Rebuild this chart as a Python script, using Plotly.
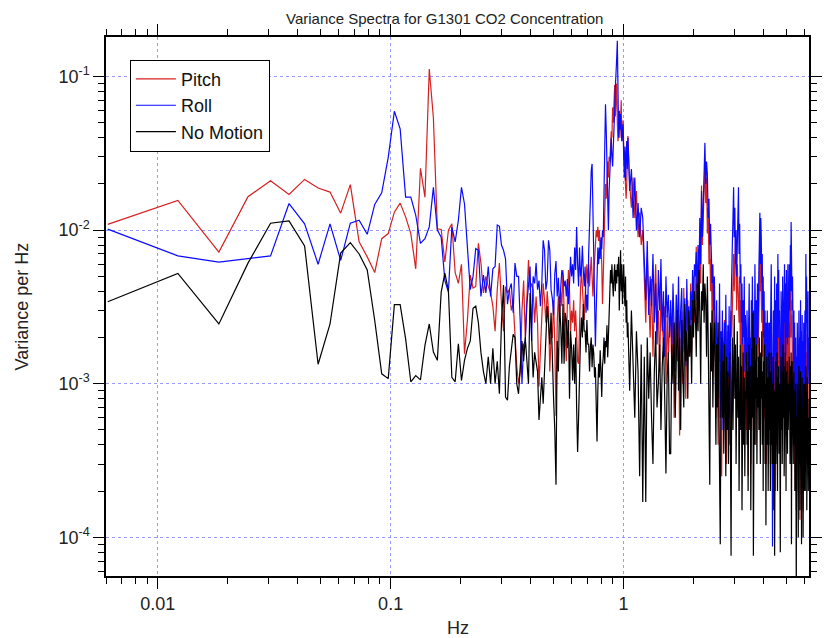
import numpy as np
import plotly.graph_objects as go

# ---------------- data ----------------
DF = 12.5 / 2048          # Hz per spectral bin
LOW_BINS = list(range(1, 171))          # every bin up to ~1.04 Hz
HIGH_BINS = list(range(171, 1024, 3))   # every 3rd bin above

UNIT = 1e-3  # values below are in units of 1e-3 variance per Hz

PITCH_LOW = [
    10.9, 15.6, 7.2, 16.5, 21.0, 17.1, 21.4, 18.8, 17.7, 12.9,
    19.8, 8.4, 6.7, 5.3, 8.8, 9.5, 13.1, 15.0, 12.2, 9.5,
    5.6, 25.3, 16.4, 112, 54, 10.2, 10.1, 6.2, 10.0, 11.0,
    5.3, 4.5, 6.0, 1.57, 2.6, 5.1, 4.2, 4.3, 8.2, 6.1,
    3.9, 5.0, 4.3, 3.9, 3.2, 2.2, 4.1, 6.1, 3.3, 2.2,
    4.3, 3.9, 4.1, 3.0, 3.4, 1.9, 1.3, 1.0, 1.2, 3.0,
    4.7, 2.0, 3.7, 6.4, 4.1, 4.5, 4.1, 2.5, 3.7, 2.5,
    0.96, 1.7, 3.0, 4.5, 3.5, 2.5, 4.0, 3.0, 1.2, 2.0,
    2.0, 3.5, 1.8, 0.62, 2.5, 3.7, 2.6, 4.0, 3.2, 5.5,
    3.0, 2.2, 1.4, 3.5, 5.5, 4.0, 2.2, 3.0, 2.5, 3.5,
    2.2, 3.0, 2.0, 1.4, 1.35, 3.0, 4.1, 5.5, 4.0, 3.3,
    2.6, 3.7, 5.0, 6.0, 4.5, 6.0, 4.3, 5.5, 6.7, 5.0,
    3.7, 5.0, 7.0, 8.0, 10.0, 9.0, 10.5, 8.5, 10.0, 7.0,
    8.6, 6.0, 3.3, 5.0, 7.5, 12, 20, 16, 25, 28,
    22, 30, 28, 35, 44, 40, 63, 50, 60, 88,
    55, 70, 90, 50, 38, 45, 52, 40, 55, 70,
    38, 45, 52, 35, 28, 25, 20, 16, 20, 28,
]

ROLL_LOW = [
    10.15, 6.8, 6.2, 6.55, 6.8, 14.9, 11.0, 6.0, 11.0, 6.35,
    11.1, 11.6, 9.4, 14.7, 17.5, 29.8, 59.5, 45.7, 16.4, 16.4,
    12.5, 8.2, 8.8, 10.5, 19.0, 10.0, 9.0, 4.7, 3.95, 10.5,
    8.4, 11.6, 19.0, 14.8, 7.4, 4.1, 5.0, 7.6, 7.4, 3.7,
    5.1, 3.9, 5.8, 3.7, 5.6, 5.8, 10.8, 10.6, 8.0, 7.4,
    6.5, 3.3, 4.1, 4.5, 2.9, 6.1, 5.0, 5.0, 2.5, 1.0,
    1.8, 1.9, 3.3, 4.3, 5.8, 1.9, 5.0, 4.5, 6.1, 4.1,
    4.7, 3.2, 4.5, 8.6, 7.4, 4.1, 4.7, 8.6, 7.4, 4.1,
    3.6, 2.8, 5.2, 6.3, 3.7, 4.9, 3.0, 4.2, 5.5, 5.1,
    4.3, 4.7, 3.7, 4.8, 3.3, 4.4, 6.7, 5.0, 6.0, 4.5,
    7.7, 5.5, 10.5, 6.0, 4.3, 7.7, 5.0, 5.5, 7.9, 5.5,
    4.3, 5.8, 2.9, 3.8, 3.0, 7.0, 11.0, 14.0, 24.5, 27.0,
    13.0, 6.0, 3.5, 1.75, 3.0, 5.5, 7.7, 6.0, 7.7, 6.5,
    9.0, 7.5, 10.0, 9.0, 18.0, 40, 66, 45, 27, 15,
    10, 18, 27, 35, 40, 30, 26, 35, 42, 60,
    85, 100, 130, 171, 90, 40, 60, 45, 57, 40,
    38, 45, 49, 30, 22, 35, 21, 30, 38, 25,
]

NOMOTION_LOW = [
    3.42, 5.23, 2.45, 6.1, 11.1, 11.5, 7.9, 1.34, 2.45, 7.1,
    8.3, 7.0, 5.5, 2.58, 1.16, 1.08, 3.27, 3.27, 1.96, 1.03,
    1.13, 1.06, 1.78, 2.45, 1.61, 1.42, 3.95, 5.25, 4.05, 1.10,
    1.03, 1.82, 1.05, 1.42, 1.7, 1.9, 3.1, 3.2, 2.5, 1.6,
    1.2, 1.0, 1.5, 1.0, 1.7, 1.0, 1.4, 0.86, 2.5, 4.4,
    0.82, 0.78, 1.3, 1.7, 2.1, 2.0, 1.0, 0.86, 1.4, 1.9,
    1.4, 2.0, 1.4, 1.0, 3.9, 2.0, 1.1, 1.6, 1.4, 1.2,
    0.58, 0.9, 1.1, 0.74, 1.2, 2.0, 3.2, 2.5, 1.8, 2.9,
    1.3, 0.8, 0.5, 0.22, 1.9, 1.2, 3.3, 2.4, 1.35, 3.3,
    1.35, 2.9, 2.6, 1.7, 2.6, 0.8, 2.2, 1.7, 1.05, 1.8,
    1.0, 2.0, 0.7, 0.36, 0.6, 1.35, 2.0, 2.7, 2.0, 3.3,
    2.2, 2.2, 1.6, 2.6, 1.8, 1.82, 1.2, 1.73, 2.0, 1.28,
    1.8, 1.57, 1.1, 1.28, 0.7, 0.42, 0.9, 1.35, 1.1, 1.65,
    1.2, 0.82, 1.3, 1.49, 2.0, 1.35, 1.9, 1.73, 2.4, 1.49,
    2.0, 3.16, 4.0, 5.5, 4.5, 6.0, 4.5, 3.7, 5.0, 6.0,
    4.0, 5.5, 4.5, 6.0, 5.0, 6.7, 3.0, 6.0, 7.4, 4.0,
    6.0, 3.3, 5.0, 6.0, 4.0, 3.2, 5.0, 2.5, 3.5, 2.0,
]

PITCH_HIGH = [
    41, 20, 14, 22, 12, 18, 9, 13, 8, 10,
    4.5, 2.5, 6.7, 3.0, 2.0, 4.8, 1.5, 3.5, 6.0, 2.2, 3.0, 1.2, 4.0, 2.5, 1.8, 3.2, 1.0, 2.8, 1.5, 2.4,
    2.5, 1.2, 3.2, 0.6, 2.0, 3.8, 1.4, 2.8, 0.46, 1.8, 3.0, 1.0, 4.2, 2.0, 0.8, 2.5, 3.5, 1.5, 2.2, 4.5, 1.6, 3.5, 5.0, 2.5,
    3.5, 7.8, 2.5, 5.5, 3.0, 10, 4.5, 19.5, 8.0, 12, 20, 27, 15, 22, 9.5, 14, 6.0, 9.0, 4.0, 6.5, 2.5, 4.5, 1.5, 3.5,
    1.8, 0.6, 2.5, 1.0, 0.4, 1.6, 3.0, 0.8, 1.4, 0.25, 2.0, 1.1, 0.5, 2.6, 0.9, 1.5, 0.3, 2.2, 1.0, 0.6, 1.8, 0.4, 2.4, 3.0,
    2.0, 3.5, 5.0, 7.0, 4.0, 6.5, 9.0, 5.5, 3.0, 6.0, 4.5, 3.5, 2.5, 5.0, 1.8, 3.5, 1.2, 2.5, 0.6, 2.0, 0.9, 1.8, 0.4, 1.2,
    1.2, 0.5, 2.0, 0.8, 0.25, 1.5, 2.5, 0.6, 1.8, 0.3, 2.2, 1.0, 3.0, 1.5, 0.5, 2.0, 0.9, 2.8, 1.3, 0.4, 2.0, 1.0, 2.5, 1.4,
    1.8, 3.0, 5.5, 9.0, 4.0, 6.0, 3.5, 2.5, 4.5, 1.5, 2.5, 1.0, 2.0, 0.6, 1.5, 0.4, 1.2, 0.3, 1.0, 1.8, 0.5, 1.2, 0.3, 0.9,
    1.0, 0.4, 2.0, 0.8, 2.5, 1.0, 0.3, 0.6, 1.5, 0.25, 1.2, 2.0, 0.5, 1.5, 0.2, 0.9, 1.8, 0.4, 1.3, 2.5, 0.8, 2.0, 1.0, 3.0,
    1.5, 0.5, 1.2, 0.3, 2.0, 0.8, 1.5, 0.5, 2.5, 1.0, 1.8, 0.6, 2.2, 3.0, 1.2, 2.5, 0.7, 1.8, 4.4, 1.0, 2.0, 0.8, 3.0, 1.5,
    1.5, 0.8, 2.5, 1.2, 3.0, 4.0, 2.0, 3.5, 2.2, 2.8, 1.0, 2.0, 0.8, 1.5, 0.5, 1.2, 0.3, 1.0, 0.6, 0.2, 0.8, 0.4, 0.15, 0.6,
    0.6, 1.2, 0.3, 1.0, 0.2, 0.9, 1.6, 0.5, 1.2, 0.13, 0.8, 1.8, 0.4, 1.0, 0.2, 0.7, 1.4, 0.35, 1.0, 0.15, 0.6, 1.5, 0.3, 0.9,
    0.6, 1.2, 0.4, 1.5, 2.1, 0.8, 1.6, 0.3, 1.0, 0.5, 0.9, 1.5, 0.25, 0.7, 0.5,
]

ROLL_HIGH = [
    40, 18, 25, 12, 22, 10, 15, 9, 14, 12,
    6.0, 3.5, 8.5, 2.8, 5.0, 3.2, 7.0, 2.5, 4.5, 1.8, 5.5, 3.0, 6.5, 2.2, 4.0, 1.5, 5.0, 2.7, 3.8, 2.0,
    3.5, 1.8, 4.5, 2.4, 1.2, 3.8, 2.0, 5.0, 1.5, 3.0, 4.2, 1.6, 2.8, 3.6, 1.3, 4.8, 2.2, 3.2, 1.7, 4.0, 2.6, 5.5, 3.0, 6.0,
    5.0, 7.2, 3.5, 8.0, 4.5, 12, 6.0, 18, 9.0, 14, 25, 37, 20, 28, 23, 12, 16, 8.0, 11, 7.8, 4.5, 6.0, 3.0, 5.0,
    2.6, 1.0, 3.5, 0.8, 2.0, 1.4, 4.5, 0.6, 2.2, 1.2, 3.0, 0.5, 1.8, 2.5, 0.9, 3.8, 1.5, 0.7, 2.4, 1.1, 3.2, 0.6, 2.0, 4.0,
    4.0, 8.0, 12, 19, 9.0, 14, 6.0, 10, 5.0, 8.0, 15, 19, 7.0, 11, 4.5, 6.0, 2.5, 4.5, 1.8, 3.5, 2.0, 5.0, 1.2, 2.8,
    2.0, 0.8, 3.0, 1.3, 0.5, 2.5, 4.5, 1.0, 2.0, 0.6, 3.5, 1.5, 5.0, 2.2, 0.9, 3.0, 1.4, 6.0, 2.5, 1.0, 3.5, 1.8, 4.5, 2.0,
    3.0, 5.5, 8.0, 13, 6.0, 12, 9.0, 4.5, 7.0, 3.0, 5.0, 2.0, 4.0, 1.5, 3.0, 1.0, 2.5, 0.8, 1.8, 3.0, 1.2, 2.5, 0.6, 2.0,
    2.5, 1.0, 4.0, 1.5, 6.0, 2.0, 0.5, 0.087, 1.2, 3.0, 0.8, 2.2, 5.0, 1.5, 3.5, 0.6, 2.0, 4.5, 1.2, 3.0, 7.0, 2.0, 5.5, 2.5,
    3.0, 1.0, 2.5, 0.6, 4.0, 1.5, 3.5, 1.2, 5.0, 2.0, 3.0, 1.0, 4.0, 6.0, 2.5, 4.5, 1.5, 3.5, 5.5, 2.0, 4.0, 1.8, 6.0, 3.0,
    4.0, 2.0, 6.0, 3.0, 5.0, 8.0, 4.0, 11.3, 5.5, 7.0, 3.0, 5.0, 2.0, 4.0, 1.2, 3.0, 0.8, 2.5, 1.5, 0.5, 2.0, 1.0, 0.3, 1.5,
    1.0, 2.5, 0.6, 1.8, 0.4, 1.5, 3.0, 0.9, 2.0, 0.5, 1.6, 3.5, 1.0, 2.2, 0.4, 1.4, 2.8, 0.8, 1.9, 0.3, 1.2, 2.5, 0.7, 1.6,
    1.5, 3.0, 0.8, 4.5, 7.0, 2.5, 5.0, 1.5, 3.5, 1.0, 2.5, 4.0, 1.2, 2.0, 1.0,
]

NOMOTION_HIGH = [
    2.5, 0.9, 3.0, 1.5, 0.6, 2.2, 1.2, 0.25, 1.8, 0.17,
    1.5, 0.17, 2.0, 0.8, 1.6, 0.6, 0.3, 1.2, 2.2, 0.7, 1.0, 1.8, 0.5, 1.3, 2.0, 0.8, 0.26, 1.1, 1.6, 0.35,
    0.35, 1.8, 1.0, 2.5, 0.6, 1.5, 3.0, 0.9, 2.0, 0.5, 2.6, 1.2, 0.7, 3.3, 1.4, 2.2, 0.8, 3.0, 1.5, 2.4, 1.0, 3.5, 2.0, 4.0,
    3.0, 1.5, 4.5, 2.2, 5.5, 2.8, 1.0, 4.0, 3.0, 6.0, 2.5, 4.5, 3.5, 1.5, 5.0, 2.0, 0.8, 0.22, 2.5, 1.2, 3.0, 0.7, 1.8, 2.5,
    1.2, 0.4, 1.8, 0.7, 2.5, 0.9, 0.3, 0.09, 1.1, 2.0, 0.6, 1.4, 0.35, 1.8, 0.8, 0.25, 1.5, 0.5, 1.2, 0.3, 0.9, 1.6, 0.4, 0.076,
    1.0, 2.0, 0.5, 1.5, 2.8, 0.8, 1.8, 0.3, 1.2, 2.2, 0.6, 1.5, 0.2, 1.0, 1.8, 0.5, 1.3, 0.15, 0.8, 1.6, 0.4, 1.1, 0.25, 0.9,
    0.8, 1.6, 0.4, 1.2, 0.2, 1.0, 1.8, 0.5, 1.3, 0.15, 0.9, 1.7, 0.6, 2.9, 0.076, 1.0, 2.0, 0.4, 1.4, 0.8, 1.8, 0.3, 1.1, 0.7,
    1.5, 0.5, 2.0, 1.0, 0.3, 1.6, 0.8, 2.2, 0.4, 1.2, 0.2, 1.4, 0.7, 1.8, 0.3, 1.0, 0.12, 0.8, 1.5, 0.4, 1.1, 0.2, 0.9, 1.6,
    0.5, 1.2, 0.2, 0.9, 1.6, 0.4, 1.0, 0.3, 0.8, 1.5, 0.15, 0.9, 0.076, 0.7, 1.4, 0.3, 1.0, 0.5, 1.6, 0.2, 1.1, 0.6, 1.3, 0.35,
    1.0, 0.4, 0.08, 0.8, 1.5, 0.5, 1.2, 0.3, 0.9, 1.8, 0.6, 1.3, 0.25, 1.0, 0.5, 1.6, 0.8, 0.2, 1.2, 0.6, 1.4, 0.35, 1.0, 0.5,
    1.2, 0.5, 1.5, 0.8, 0.3, 1.3, 0.6, 1.6, 0.09, 0.9, 1.4, 0.5, 1.1, 0.3, 0.8, 1.2, 0.4, 0.9, 0.2, 0.7, 1.0, 0.3, 0.04, 0.6,
    0.4, 1.0, 0.2, 0.8, 0.1, 0.7, 1.3, 0.3, 0.9, 0.15, 0.6, 1.2, 0.35, 0.8, 0.09, 0.5, 1.1, 0.25, 0.7, 0.1, 0.5, 1.0, 0.2, 0.6,
    0.5, 1.0, 0.2, 0.8, 1.3, 0.4, 0.9, 0.15, 0.7, 1.1, 0.3, 0.8, 0.2, 0.6, 0.4,
]

SERIES = [
    ("Pitch", PITCH_LOW + PITCH_HIGH, "rgb(214,32,32)"),
    ("Roll", ROLL_LOW + ROLL_HIGH, "rgb(10,10,255)"),
    ("No Motion", NOMOTION_LOW + NOMOTION_HIGH, "rgb(0,0,0)"),
]

X_TICKS = [0.01, 0.1, 1]
X_TICK_TEXT = ["0.01", "0.1", "1"]
Y_TICKS = [1e-4, 1e-3, 1e-2, 1e-1]
Y_TICK_TEXT = ["10<sup>-4</sup>", "10<sup>-3</sup>", "10<sup>-2</sup>", "10<sup>-1</sup>"]

# ---------------- figure ----------------
bins = np.array(LOW_BINS + HIGH_BINS)
freq = DF * bins

fig = go.Figure()
for name, vals, color in SERIES:
    assert len(vals) == len(bins), (name, len(vals), len(bins))
    fig.add_trace(go.Scatter(
        x=freq, y=np.array(vals) * UNIT, mode="lines", name=name,
        line=dict(color=color, width=1.2),
    ))

FONT = "Liberation Sans, Arial, Helvetica, sans-serif"
grid_color = "rgba(120,120,255,0.75)"

x_minor = [m * 10.0 ** e for e in (-3, -2, -1, 0) for m in range(2, 10)]
x_minor = [v for v in x_minor if 0.006 <= v <= 6.25]
y_minor = [m * 10.0 ** e for e in (-5, -4, -3, -2) for m in range(2, 10)]
y_minor = [v for v in y_minor if 5.6e-5 <= v <= 0.18]

common_axis = dict(
    type="log", showline=True, linecolor="black", linewidth=1.5,
    mirror="allticks", ticks="outside", ticklen=11, tickwidth=1.3,
    tickcolor="black", showgrid=True, gridcolor=grid_color, gridwidth=1,
    griddash="dot", zeroline=False,
    tickfont=dict(family=FONT, size=18, color="#222"),
)

fig.update_xaxes(
    **common_axis,
    range=[np.log10(0.006), np.log10(6.25)],
    tickvals=X_TICKS, ticktext=X_TICK_TEXT,
    minor=dict(tickvals=x_minor, ticks="outside", ticklen=6, tickwidth=1.2,
               tickcolor="black", showgrid=False),
)
fig.update_yaxes(
    **common_axis,
    range=[np.log10(5.6e-5), np.log10(0.181)],
    tickvals=Y_TICKS, ticktext=Y_TICK_TEXT,
    minor=dict(tickvals=y_minor, ticks="outside", ticklen=6, tickwidth=1.2,
               tickcolor="black", showgrid=False),
)

# the page body adds an 8 px margin, so the figure is 8 px smaller each way
fig.update_layout(
    width=822, height=630,
    margin=dict(l=98, r=8, t=29, b=62),
    paper_bgcolor="white", plot_bgcolor="white",
    font=dict(family=FONT, size=18, color="#222"),
    showlegend=True,
    legend=dict(
        x=0.034, y=0.958, xanchor="left", yanchor="top",
        bgcolor="white", bordercolor="black", borderwidth=1,
        font=dict(family=FONT, size=18, color="#111"),
        tracegroupgap=0, itemwidth=40,
    ),
    annotations=[
        dict(text="Variance Spectra for G1301 CO2 Concentration",
             xref="paper", yref="paper", x=0.482, y=1.0538,
             xanchor="center", yanchor="top", showarrow=False,
             font=dict(family=FONT, size=15, color="#222")),
        dict(text="Hz", xref="paper", yref="paper", x=0.5, y=-0.0964,
             xanchor="center", yanchor="middle", showarrow=False,
             font=dict(family=FONT, size=18, color="#222")),
        dict(text="Variance per Hz", xref="paper", yref="paper",
             x=-0.1196, y=0.5, textangle=-90,
             xanchor="center", yanchor="middle", showarrow=False,
             font=dict(family=FONT, size=18, color="#222")),
    ],
)

fig.write_html("out.html")
